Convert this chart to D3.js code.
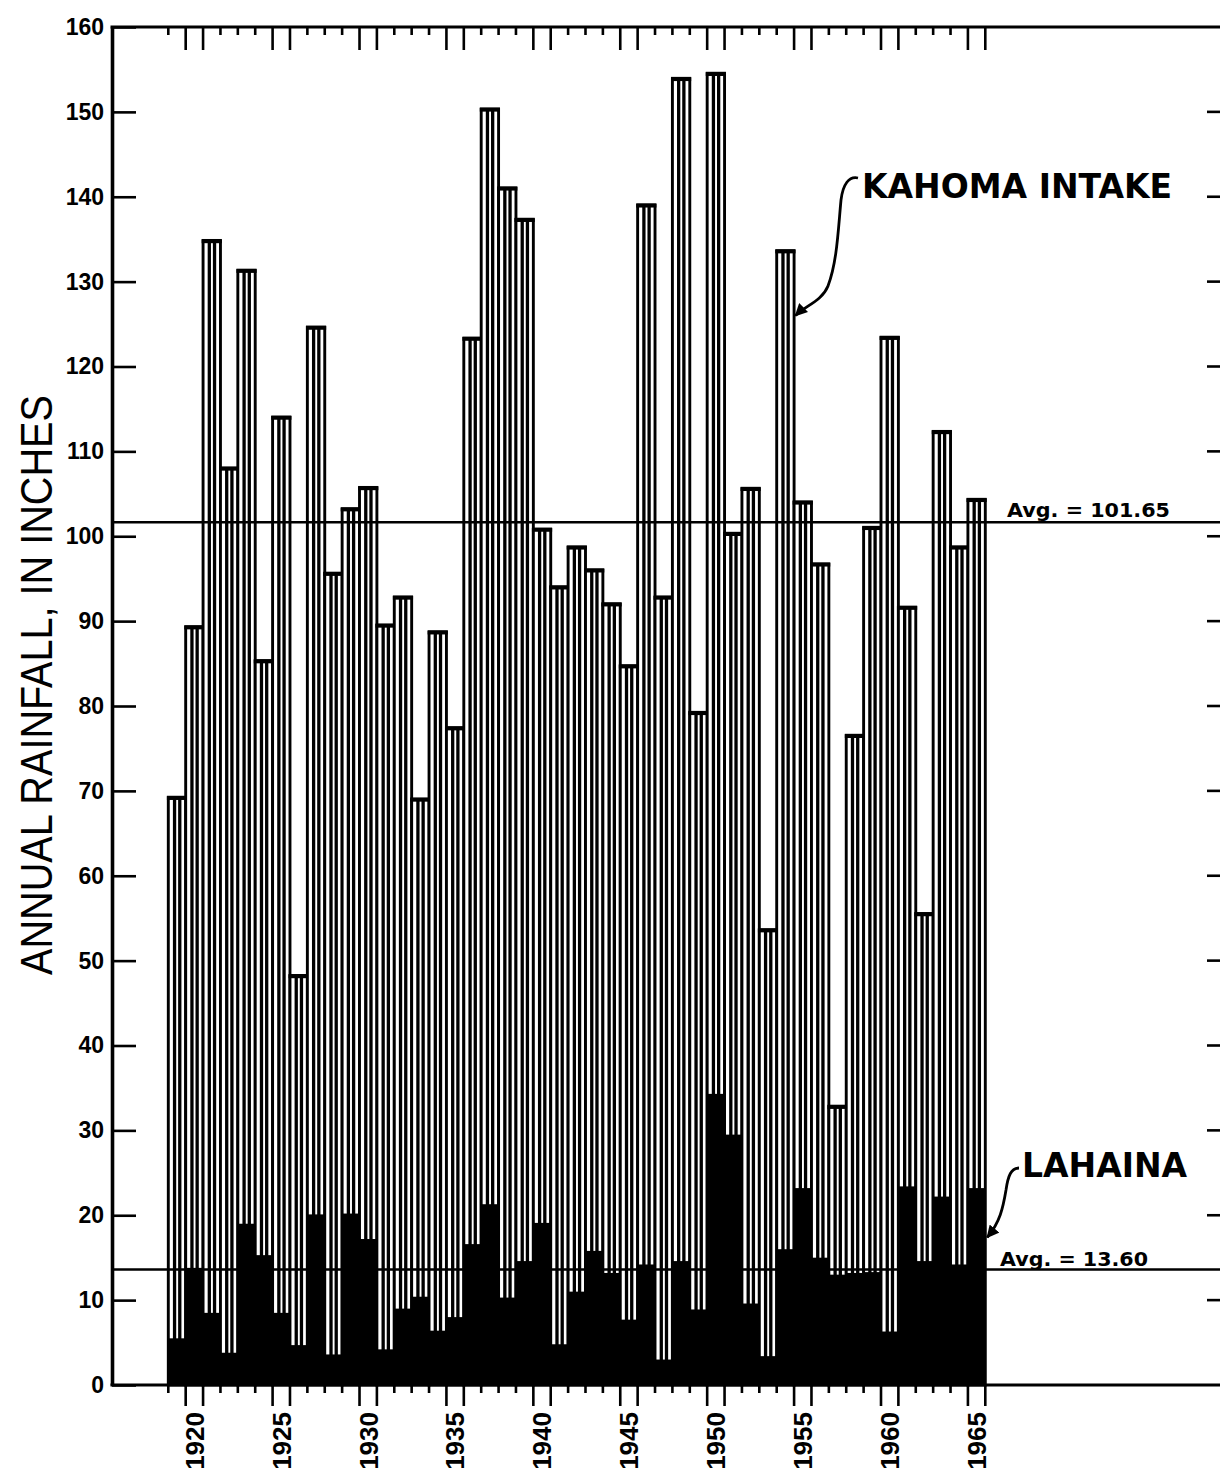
<!DOCTYPE html>
<html><head><meta charset="utf-8">
<script src="https://cdn.jsdelivr.net/npm/d3@7"></script>
<style>body{margin:0;background:#fff}</style>
</head><body>
<svg id="c" width="1220" height="1480" xmlns="http://www.w3.org/2000/svg"></svg>
<script>
// ---------- DATA ----------
const years = [1919,1920,1921,1922,1923,1924,1925,1926,1927,1928,1929,1930,1931,1932,1933,1934,1935,1936,1937,1938,1939,1940,1941,1942,1943,1944,1945,1946,1947,1948,1949,1950,1951,1952,1953,1954,1955,1956,1957,1958,1959,1960,1961,1962,1963,1964,1965];
const kahomaIntake = [69.2,89.3,134.8,108.0,131.3,85.3,114.0,48.2,124.6,95.6,103.2,105.7,89.5,92.8,69.0,88.7,77.4,123.3,150.3,141.0,137.3,100.8,94.0,98.7,96.0,92.0,84.7,139.0,92.8,153.9,79.2,154.5,100.3,105.6,53.6,133.6,104.0,96.7,32.8,76.5,101.0,123.4,91.6,55.5,112.3,98.7,104.3];
const lahaina = [5.5,13.8,8.5,3.8,19.0,15.3,8.5,4.7,20.1,3.6,20.2,17.2,4.2,9.0,10.4,6.4,8.0,16.6,21.3,10.3,14.6,19.1,4.8,11.0,15.8,13.2,7.7,14.2,3.0,14.6,8.9,34.3,29.5,9.6,3.4,16.0,23.2,15.0,13.0,13.2,13.3,6.3,23.4,14.6,22.2,14.2,23.2];
const yTicks = [0,10,20,30,40,50,60,70,80,90,100,110,120,130,140,150,160];
const rightTicks = [10,20,30,40,50,60,70,80,90,100,110,120,130,140,150];
const xLabels = [1920,1925,1930,1935,1940,1945,1950,1955,1960,1965];
const avgKahoma = 101.65;
const avgLahaina = 13.60;
const yTitle = "ANNUAL RAINFALL, IN INCHES";

// ---------- CHART ----------
const svg = d3.select('#c');
const X0 = 112, XR = 1220;
const x = d3.scaleBand().domain(years).range([168.3, 985.3]).padding(0);
const y = d3.scaleLinear().domain([0,160]).range([1385, 27]);
const bw = x.bandwidth();
const rows = years.map((yr,i)=>({yr, k:kahomaIntake[i], l:lahaina[i]}));

// Kahoma Intake hatched bars
const kb = svg.append('g').selectAll('g').data(rows).join('g');
kb.append('rect')
  .attr('x', d=>x(d.yr)).attr('y', d=>y(d.k))
  .attr('width', bw).attr('height', d=>y(0)-y(d.k))
  .attr('fill','#fff').attr('stroke','#000').attr('stroke-width',2.9);
[0.36, 0.66].forEach(f=>{
  kb.append('line')
    .attr('x1', d=>x(d.yr)+bw*f).attr('x2', d=>x(d.yr)+bw*f)
    .attr('y1', d=>y(d.k)).attr('y2', y(0))
    .attr('stroke','#000').attr('stroke-width',3.3);
});
kb.append('rect')
  .attr('x', d=>x(d.yr)-1.4).attr('y', d=>y(d.k)-1.9)
  .attr('width', bw+2.8).attr('height', 4.2)
  .attr('fill','#000');

// Lahaina solid bars
svg.append('g').selectAll('rect').data(rows).join('rect')
  .attr('x', d=>x(d.yr)-0.3).attr('y', d=>y(d.l))
  .attr('width', bw+0.6).attr('height', d=>y(0)-y(d.l))
  .attr('fill','#000');

// Average lines
[avgKahoma, avgLahaina].forEach(v=>{
  svg.append('line').attr('x1',X0).attr('x2',XR).attr('y1',y(v)).attr('y2',y(v))
    .attr('stroke','#000').attr('stroke-width',2.6);
});

// Left axis
const ax = svg.append('g').attr('transform',`translate(${X0},0)`)
  .call(d3.axisLeft(y).tickValues(yTicks).tickSizeInner(-24).tickSizeOuter(0).tickPadding(8));
ax.select('.domain').attr('stroke-width',3.6);
ax.selectAll('.tick line').attr('stroke-width',2.6);
ax.selectAll('.tick text').attr('font-family','Liberation Sans, Arial, sans-serif')
  .attr('font-weight','bold').attr('font-size',23).attr('fill','#000');

// Top and bottom frame lines
[0,160].forEach(v=>{
  svg.append('line').attr('x1',X0-1.5).attr('x2',XR).attr('y1',y(v)).attr('y2',y(v))
    .attr('stroke','#000').attr('stroke-width',3.2);
});

// Year boundary ticks (top and bottom)
const bounds = years.map(yr=>({pos:x(yr), a:yr-1, b:yr})).concat([{pos:x(years[years.length-1])+bw, a:years[years.length-1], b:null}]);
const isLong = d => xLabels.includes(d.a) || xLabels.includes(d.b);
svg.append('g').selectAll('line').data(bounds).join('line')
  .attr('x1',d=>d.pos).attr('x2',d=>d.pos)
  .attr('y1',y(0)).attr('y2',d=>y(0)+(isLong(d)?21:8))
  .attr('stroke','#000').attr('stroke-width',2.6);
svg.append('g').selectAll('line').data(bounds).join('line')
  .attr('x1',d=>d.pos).attr('x2',d=>d.pos)
  .attr('y1',y(160)).attr('y2',d=>y(160)+(isLong(d)?23:8))
  .attr('stroke','#000').attr('stroke-width',2.6);

// Right-side ticks
svg.append('g').selectAll('line').data(rightTicks).join('line')
  .attr('x1',1207).attr('x2',XR).attr('y1',d=>y(d)).attr('y2',d=>y(d))
  .attr('stroke','#000').attr('stroke-width',2.6);

// Year labels
svg.append('g').selectAll('text').data(xLabels).join('text')
  .attr('transform',d=>`translate(${x(d)+bw/2},1412) rotate(-90)`)
  .attr('dy','0.36em').attr('text-anchor','end')
  .attr('font-family','Liberation Sans, Arial, sans-serif').attr('font-weight','bold')
  .attr('font-size',26).text(d=>d);

// Y title
svg.append('text')
  .attr('transform','translate(52,685) rotate(-90)')
  .attr('text-anchor','middle')
  .attr('font-family','Liberation Sans, Arial, sans-serif').attr('font-size',44)
  .attr('textLength',580).attr('lengthAdjust','spacingAndGlyphs')
  .text(yTitle);

// Average labels
svg.append('text').attr('x',1007).attr('y',y(avgKahoma)-5)
  .attr('font-family','DejaVu Sans, sans-serif').attr('font-weight','bold').attr('font-size',20)
  .attr('textLength',163).attr('lengthAdjust','spacingAndGlyphs')
  .text('Avg. = ' + avgKahoma.toFixed(2));
svg.append('text').attr('x',1000).attr('y',y(avgLahaina)-4)
  .attr('font-family','DejaVu Sans, sans-serif').attr('font-weight','bold').attr('font-size',20)
  .attr('textLength',148).attr('lengthAdjust','spacingAndGlyphs')
  .text('Avg. = ' + avgLahaina.toFixed(2));

// Series labels with curved leaders
const defs = svg.append('defs');
defs.append('marker').attr('id','arr').attr('viewBox','0 0 10 10').attr('refX',9).attr('refY',5)
  .attr('markerWidth',4.5).attr('markerHeight',4.5).attr('orient','auto')
  .append('path').attr('d','M0,0 L10,5 L0,10 z').attr('fill','#000');

const kTip = [x(1954)+bw+1.5, y(126)];
svg.append('text').attr('x',862).attr('y',198)
  .attr('font-family','DejaVu Sans, sans-serif').attr('font-weight','bold').attr('font-size',33)
  .text('KAHOMA INTAKE');
svg.append('path')
  .attr('d',`M858,178 C849,176 843,184 841,200 C838,232 837,262 828,286 C822,301 ${kTip[0]+10},${kTip[1]-10} ${kTip[0]},${kTip[1]}`)
  .attr('fill','none').attr('stroke','#000').attr('stroke-width',2.8).attr('marker-end','url(#arr)');

const lTip = [x(1965)+bw+2, y(17.4)];
svg.append('text').attr('x',1022).attr('y',1177)
  .attr('font-family','DejaVu Sans, sans-serif').attr('font-weight','bold').attr('font-size',33)
  .text('LAHAINA');
svg.append('path')
  .attr('d',`M1019,1168 C1011,1168 1008,1176 1006,1190 C1003,1208 1000,1222 ${lTip[0]},${lTip[1]}`)
  .attr('fill','none').attr('stroke','#000').attr('stroke-width',2.8).attr('marker-end','url(#arr)');
</script>
</body></html>
